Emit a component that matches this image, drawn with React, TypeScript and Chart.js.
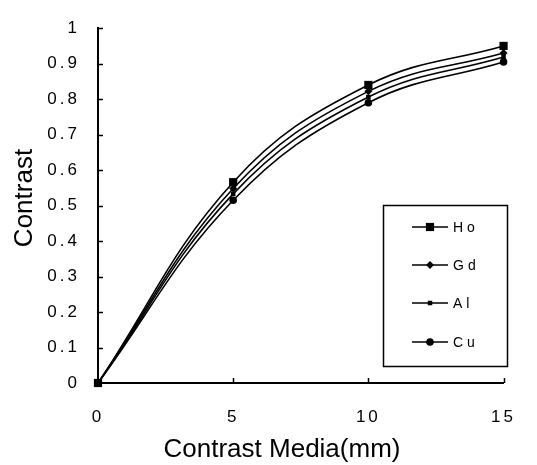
import React, { useEffect, useRef } from 'react';
import { Chart, registerables } from 'chart.js';

Chart.register(...registerables);

// ---- data ----
const xValues = [0, 5, 10, 15];
const hoValues = [0, 0.566, 0.84, 0.95];
const gdValues = [0, 0.548, 0.822, 0.93];
const alValues = [0, 0.533, 0.806, 0.919];
const cuValues = [0, 0.515, 0.79, 0.905];
const seriesNames = ['Ho', 'Gd', 'Al', 'Cu'];
const xTitle = 'Contrast Media(mm)';
const yTitle = 'Contrast';

const FONT = "'Liberation Sans', Arial, sans-serif";

const spacing = {
  id: 'spacing',
  beforeDraw(chart: any) {
    (chart.ctx as any).letterSpacing = '3px';
  },
  beforeDatasetsDraw(chart: any) {
    (chart.ctx as any).letterSpacing = '0px';
  },
};

const innerTicks = {
  id: 'innerTicks',
  afterDraw(chart: any) {
    const { ctx, chartArea, scales } = chart;
    const x = scales.x;
    const y = scales.y;
    ctx.save();
    ctx.strokeStyle = '#000';
    ctx.lineWidth = 1.5;
    ctx.beginPath();
    y.ticks.forEach((t: any) => {
      if (t.value === 0) return;
      const py = Math.round(y.getPixelForValue(t.value)) + 0.5;
      ctx.moveTo(chartArea.left, py);
      ctx.lineTo(chartArea.left + 5, py);
    });
    x.ticks.forEach((t: any) => {
      if (t.value === 0) return;
      const px = Math.round(x.getPixelForValue(t.value)) + 0.5;
      ctx.moveTo(px, chartArea.bottom);
      ctx.lineTo(px, chartArea.bottom - 5);
    });
    ctx.stroke();
    ctx.restore();
  },
};

const axisTitles = {
  id: 'axisTitles',
  afterDraw(chart: any) {
    const { ctx } = chart;
    ctx.save();
    (ctx as any).letterSpacing = '0px';
    ctx.fillStyle = '#000';
    ctx.font = `26px ${FONT}`;
    ctx.textAlign = 'center';
    ctx.textBaseline = 'middle';
    ctx.fillText(xTitle, 282, 450);
    ctx.translate(25, 198);
    ctx.rotate(-Math.PI / 2);
    ctx.fillText(yTitle, 0, 0);
    ctx.restore();
  },
};

function drawMarker(ctx: CanvasRenderingContext2D, style: string, r: number, x: number, y: number) {
  ctx.beginPath();
  if (style === 'rect') {
    const s = r * Math.SQRT1_2;
    ctx.rect(x - s, y - s, 2 * s, 2 * s);
  } else if (style === 'rectRot') {
    ctx.moveTo(x, y - r);
    ctx.lineTo(x + r, y);
    ctx.lineTo(x, y + r);
    ctx.lineTo(x - r, y);
    ctx.closePath();
  } else {
    ctx.arc(x, y, r, 0, Math.PI * 2);
  }
  ctx.fill();
}

const boxLegend = {
  id: 'boxLegend',
  afterDatasetsDraw(chart: any) {
    const { ctx } = chart;
    const left = 383, top = 205, right = 507, bottom = 366;
    ctx.save();
    ctx.fillStyle = '#fff';
    ctx.fillRect(left, top, right - left, bottom - top);
    ctx.strokeStyle = '#000';
    ctx.lineWidth = 1.5;
    ctx.strokeRect(left + 0.5, top + 0.5, right - left, bottom - top);
    const ys = [227, 265, 303, 342];
    chart.data.datasets.forEach((ds: any, i: number) => {
      const yy = ys[i];
      ctx.strokeStyle = '#000';
      ctx.lineWidth = 1.5;
      ctx.beginPath();
      ctx.moveTo(412, yy);
      ctx.lineTo(448, yy);
      ctx.stroke();
      ctx.fillStyle = '#000';
      drawMarker(ctx, ds.pointStyle, ds.pointRadius, 430, yy);
      ctx.font = `14px ${FONT}`;
      (ctx as any).letterSpacing = '4px';
      ctx.textBaseline = 'middle';
      ctx.textAlign = 'left';
      ctx.fillText(ds.label, 453, yy + 1);
      (ctx as any).letterSpacing = '0px';
    });
    ctx.restore();
  },
};

export default function App() {
  const ref = useRef<HTMLCanvasElement>(null);
  useEffect(() => {
    if (!ref.current) return;
    const mk = (label: string, values: number[], pointStyle: string, pointRadius: number) => ({
      label,
      data: xValues.map((x, i) => ({ x, y: values[i] })),
      borderColor: '#000',
      backgroundColor: '#000',
      pointBackgroundColor: '#000',
      pointBorderColor: '#000',
      pointBorderWidth: 0,
      borderWidth: 1.6,
      pointStyle,
      pointRadius,
      tension: 0.4,
      clip: false as any,
    });
    const chart = new Chart(ref.current, {
      type: 'line',
      data: {
        datasets: [
          mk(seriesNames[0], hoValues, 'rect', 5.8),
          mk(seriesNames[1], gdValues, 'rectRot', 4),
          mk(seriesNames[2], alValues, 'rect', 3.2),
          mk(seriesNames[3], cuValues, 'circle', 3.8),
        ],
      },
      options: {
        animation: false,
        responsive: false,
        devicePixelRatio: 1,
        layout: { padding: { top: 17, right: 19, bottom: 0, left: 0 } },
        plugins: { legend: { display: false }, tooltip: { enabled: false } },
        scales: {
          x: {
            type: 'linear',
            min: 0,
            max: 15,
            ticks: {
              stepSize: 5,
              color: '#000',
              font: { family: FONT, size: 17 },
              padding: 24,
              maxRotation: 0,
              callback: (v: any) => String(v),
            },
            grid: { display: true, drawOnChartArea: false, drawTicks: false },
            border: { display: true, color: '#000', width: 2 },
            title: { display: false },
            afterFit: (s: any) => { s.height = 82; },
          },
          y: {
            type: 'linear',
            min: 0,
            max: 1,
            ticks: {
              stepSize: 0.1,
              color: '#000',
              font: { family: FONT, size: 17 },
              padding: 18,
              callback: (v: any) => String(Math.round(Number(v) * 10) / 10),
            },
            grid: { display: true, drawOnChartArea: false, drawTicks: false },
            border: { display: true, color: '#000', width: 2 },
            title: { display: false },
            afterFit: (s: any) => { s.width = 98; },
          },
        },
      },
      plugins: [spacing, innerTicks, boxLegend, axisTitles],
    });
    return () => chart.destroy();
  }, []);
  return (
    <div style={{ position: 'absolute', left: 0, top: 0, width: 537, height: 465, background: '#fff' }}>
      <canvas ref={ref} width={537} height={465} />
    </div>
  );
}
